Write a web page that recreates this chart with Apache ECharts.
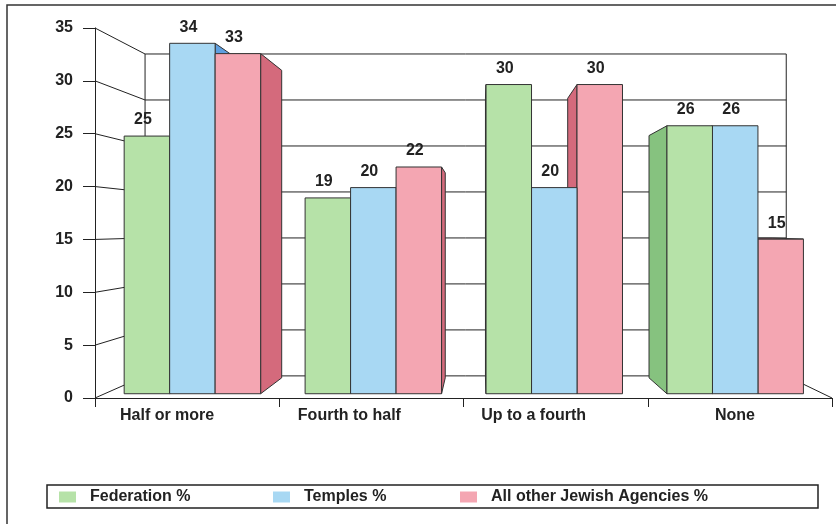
<!DOCTYPE html>
<html>
<head>
<meta charset="utf-8">
<script src="https://cdn.jsdelivr.net/npm/echarts@6/dist/echarts.min.js"></script>
<style>
  html, body { margin: 0; padding: 0; background: #ffffff; }
  #chart { width: 836px; height: 524px; }
</style>
</head>
<body>
<div id="chart"></div>
<script>
// ---- data ----
const categories = ['Half or more', 'Fourth to half', 'Up to a fourth', 'None'];
const federation = [25, 19, 30, 26];
const temples = [34, 20, 20, 26];
const otherAgencies = [33, 22, 30, 15];
const seriesNames = ['Federation %', 'Temples %', 'All other Jewish Agencies %'];
const yTicks = [0, 5, 10, 15, 20, 25, 30, 35];

// ---- look ----
const FONT = "'Liberation Sans', Arial, Helvetica, sans-serif";
const INK = '#222222';
const palette = [
  { front: '#b6e2a8', side: '#86c27f' },   // green
  { front: '#a8d8f3', side: '#5e9fe0' },   // blue
  { front: '#f4a6b2', side: '#d46a7c' }    // pink / red
];
// perspective of the 3-D box: vanishing point as a fraction of the plot area
const VP_FX = 0.5224, VP_FY = 0.5405;
const WALL_K = 0.87;                 // back wall scale
const BAR_KX = 0.982, BAR_KY = 0.975; // bar front plane scale
const DEPTH_K = 0.904;               // bar back face relative to its front face
const BAR_FRAC = 0.2514;             // one bar's width as a share of the category band
const LABEL_DX = -4, LABEL_DY = -16;
const catLabelShift = [-20, -22, -22, -5];

function vanish(cs) {
  return [cs.x + cs.width * VP_FX, cs.y + cs.height * VP_FY];
}
function scaleFrom(vp, p, kx, ky) {
  return [vp[0] + (p[0] - vp[0]) * kx, vp[1] + (p[1] - vp[1]) * (ky == null ? kx : ky)];
}

// walls: left-wall lines, back-wall gridlines, floor edge, back-wall corners
function renderWalls(params, api) {
  const cs = params.coordSys;
  const vp = vanish(cs);
  const v = api.value(1);
  const left = cs.x, right = cs.x + cs.width;
  const y = api.coord([0, v])[1];
  const a = [left, y];
  const b = scaleFrom(vp, a, WALL_K);
  const c = scaleFrom(vp, [right, y], WALL_K);
  const lineStyle = { stroke: INK, lineWidth: 1, fill: null };
  const children = [{ type: 'polyline', shape: { points: [a, b, c] }, style: lineStyle, silent: true }];
  if (params.dataIndex === 0) {
    const yTop = api.coord([0, yTicks[yTicks.length - 1]])[1];
    children.push({ type: 'line', shape: { x1: right, y1: y, x2: c[0], y2: c[1] }, style: lineStyle, silent: true });
    const bl0 = scaleFrom(vp, [left, y], WALL_K), bl1 = scaleFrom(vp, [left, yTop], WALL_K);
    const br0 = scaleFrom(vp, [right, y], WALL_K), br1 = scaleFrom(vp, [right, yTop], WALL_K);
    children.push({ type: 'line', shape: { x1: bl0[0], y1: bl0[1], x2: bl1[0], y2: bl1[1] }, style: lineStyle, silent: true });
    children.push({ type: 'line', shape: { x1: br0[0], y1: br0[1], x2: br1[0], y2: br1[1] }, style: lineStyle, silent: true });
  }
  return { type: 'group', children: children };
}

// 3-D bar: front face, the visible side face and (when below eye level) the top face
function makeBarRenderer(idx) {
  const col = palette[idx];
  return function (params, api) {
    const cs = params.coordSys;
    const vp = vanish(cs);
    const cat = api.value(0), val = api.value(1);
    const base = api.coord([cat, 0]);
    const top = api.coord([cat, val]);
    const band = api.size([1, 0])[0];
    const bw = band * BAR_FRAC;
    const xl = base[0] + (idx - 1.5) * bw, xr = xl + bw;
    const fp = p => scaleFrom(vp, p, BAR_KX, BAR_KY);
    const f = { tl: fp([xl, top[1]]), tr: fp([xr, top[1]]), br: fp([xr, base[1]]), bl: fp([xl, base[1]]) };
    const bk = p => scaleFrom(vp, p, DEPTH_K);
    const b = { tl: bk(f.tl), tr: bk(f.tr), br: bk(f.br), bl: bk(f.bl) };
    const cx = (f.tl[0] + f.tr[0]) / 2;
    const z = Math.round(1000 - Math.abs(cx - vp[0]));
    const edge = { stroke: '#333333', lineWidth: 1, lineJoin: 'round' };
    const children = [];
    if (f.tr[0] < vp[0]) {
      children.push({ type: 'polygon', z2: z, shape: { points: [f.tr, b.tr, b.br, f.br] },
        style: Object.assign({ fill: col.side }, edge), silent: true });
    } else if (f.tl[0] > vp[0]) {
      children.push({ type: 'polygon', z2: z, shape: { points: [f.tl, b.tl, b.bl, f.bl] },
        style: Object.assign({ fill: col.side }, edge), silent: true });
    }
    if (f.tl[1] > vp[1]) {
      children.push({ type: 'polygon', z2: z, shape: { points: [f.tl, f.tr, b.tr, b.tl] },
        style: Object.assign({ fill: col.side }, edge), silent: true });
    }
    children.push({ type: 'polygon', z2: z, shape: { points: [f.tl, f.tr, f.br, f.bl] },
      style: Object.assign({ fill: col.front }, edge), silent: true });
    children.push({ type: 'text', z2: 2000, silent: true,
      style: { text: String(val), x: cx + LABEL_DX, y: f.tl[1] + LABEL_DY,
        align: 'center', verticalAlign: 'middle',
        font: 'bold 16px ' + FONT, fill: INK } });
    return { type: 'group', children: children };
  };
}

const seriesValues = [federation, temples, otherAgencies];

const richLabels = {};
catLabelShift.forEach((s, i) => {
  richLabels['c' + i] = {
    fontFamily: FONT, fontSize: 16, fontWeight: 'bold', color: INK,
    padding: s < 0 ? [0, -2 * s, 0, 0] : [0, 0, 0, 2 * s]
  };
});

const legendCommon = {
  orient: 'horizontal', top: 488, padding: 0, icon: 'rect',
  itemWidth: 17, itemHeight: 11, selectedMode: false,
  textStyle: { fontFamily: FONT, fontSize: 16, fontWeight: 'bold', color: INK, lineHeight: 18, padding: [0, 0, 0, 9] }
};

const chart = echarts.init(document.getElementById('chart'), null, { renderer: 'canvas' });
chart.setOption({
  animation: false,
  backgroundColor: '#ffffff',
  grid: { left: 95, right: 4, top: 28, bottom: 126, containLabel: false },
  xAxis: {
    type: 'category', data: categories, boundaryGap: true,
    axisLine: { show: true, lineStyle: { color: INK, width: 1 } },
    axisTick: { show: true, length: 9, lineStyle: { color: INK } },
    axisLabel: {
      margin: 10, interval: 0,
      formatter: (v, i) => '{c' + i + '|' + v + '}',
      rich: richLabels
    },
    splitLine: { show: false }
  },
  yAxis: {
    type: 'value', min: 0, max: 35, interval: 5,
    axisLine: { show: true, lineStyle: { color: INK, width: 1 } },
    axisTick: { show: true, length: 12, lineStyle: { color: INK } },
    axisLabel: { margin: 22, fontFamily: FONT, fontSize: 16, fontWeight: 'bold', color: INK },
    splitLine: { show: false }
  },
  legend: [
    Object.assign({ data: [seriesNames[0]], left: 59 }, legendCommon),
    Object.assign({ data: [seriesNames[1]], left: 273 }, legendCommon),
    Object.assign({ data: [seriesNames[2]], left: 460 }, legendCommon)
  ],
  graphic: [
    { type: 'rect', shape: { x: 7, y: 5, width: 850, height: 540 }, style: { fill: null, stroke: '#333', lineWidth: 1.5 }, silent: true },
    { type: 'rect', shape: { x: 47, y: 485, width: 771, height: 23 }, style: { fill: null, stroke: '#222', lineWidth: 1.5 }, silent: true }
  ],
  series: [
    {
      type: 'custom', name: 'walls', z: 1, clip: false, silent: true,
      renderItem: renderWalls,
      data: yTicks.map(v => [0, v])
    }
  ].concat(seriesValues.map((vals, idx) => ({
    type: 'custom', name: seriesNames[idx], z: 2, clip: false,
    itemStyle: { color: palette[idx].front },
    renderItem: makeBarRenderer(idx),
    data: vals.map((v, i) => [i, v])
  })))
});
</script>
</body>
</html>
